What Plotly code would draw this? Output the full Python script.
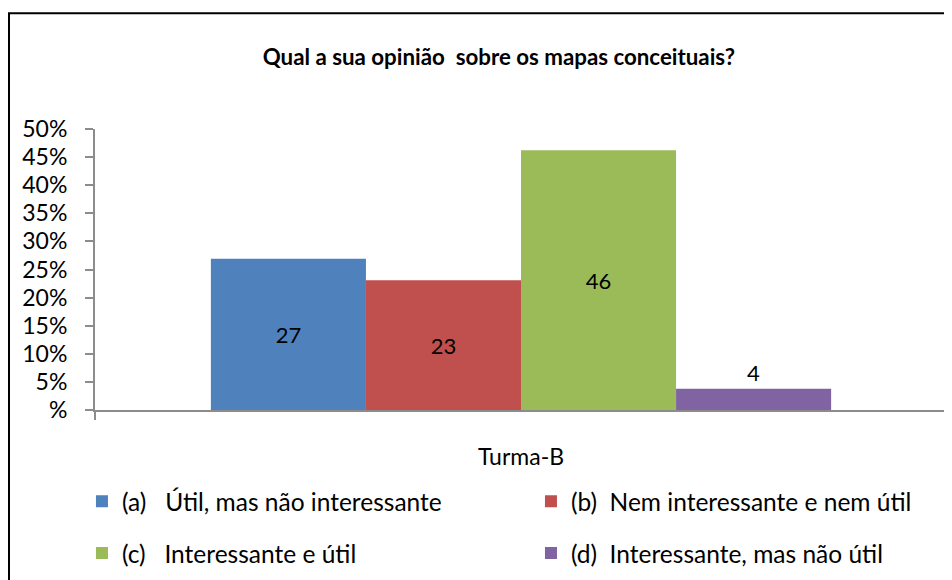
import plotly.graph_objects as go

# survey answers for Turma-B (share of students, 26 respondents)
categories = ["Turma-B"]
options = [
    "(a)\u00a0\u00a0 Útil, mas não interessante",
    "(b)\u00a0\u00a0Nem interessante e nem útil",
    "(c)\u00a0\u00a0 Interessante e útil",
    "(d)\u00a0\u00a0Interessante, mas não útil",
]
shares = [0.269, 0.231, 0.462, 0.038]
labels = ["27", "23", "46", "4"]
colors = ["#4F81BD", "#C0504D", "#9BBB59", "#8064A2"]
ytick_vals = [0, 0.05, 0.10, 0.15, 0.20, 0.25, 0.30, 0.35, 0.40, 0.45, 0.50]
ytick_text = ["%", "5%", "10%", "15%", "20%", "25%", "30%", "35%", "40%", "45%", "50%"]

font = "Lato"
axis_grey = "#8c8c8c"

# one legend box per entry, laid out as a 2x2 grid below the plot
legend_ids = ["legend", "legend2", "legend3", "legend4"]
legend_x = [-0.0153, 0.5117, -0.0153, 0.5117]
legend_y = [-0.325, -0.325, -0.509, -0.509]

fig = go.Figure()
for name, val, lab, col, lg in zip(options, shares, labels, colors, legend_ids):
    fig.add_trace(go.Bar(
        x=categories, y=[val], name=name, text=[lab],
        marker=dict(color=col, line=dict(width=0)),
        textposition="inside" if val > 0.1 else "outside",
        insidetextanchor="middle", textangle=0, constraintext="none",
        textfont=dict(family=font, size=22, color="black"),
        cliponaxis=False, legend=lg,
    ))

# the page body adds an 8px offset, so the figure is 8px smaller than the window
fig.update_layout(
    width=944, height=572,
    margin=dict(l=87, r=5, t=121, b=168),
    paper_bgcolor="white", plot_bgcolor="white",
    barmode="group", bargap=0.272, bargroupgap=0,
    font=dict(family=font, color="black"),
    title=dict(text="<b>Qual a sua opinião  sobre os mapas conceituais?</b>",
               x=0.520, xanchor="center", y=0.914, yanchor="middle",
               font=dict(family=font, size=22.3, color="black")),
    showlegend=True,
)
for lg, lx, ly in zip(legend_ids, legend_x, legend_y):
    fig.update_layout({lg: dict(orientation="h", x=lx, y=ly, yanchor="middle",
                                xanchor="left", bgcolor="rgba(0,0,0,0)",
                                font=dict(family=font, size=24.5),
                                itemclick=False, itemdoubleclick=False)})

fig.update_xaxes(type="category", range=[-0.5, 0.5], showline=True,
                 linecolor=axis_grey, linewidth=2, ticks="outside",
                 tickson="boundaries", ticklen=8, tickcolor=axis_grey,
                 tickwidth=2, ticklabelstandoff=25,
                 tickfont=dict(family=font, size=23, color="black"),
                 showgrid=False, zeroline=False)
fig.update_yaxes(range=[0, 0.5], tickvals=ytick_vals, ticktext=ytick_text,
                 showline=True, linecolor=axis_grey, linewidth=2,
                 ticks="outside", ticklen=8, tickcolor=axis_grey, tickwidth=2,
                 ticklabelstandoff=13,
                 tickfont=dict(family=font, size=23, color="black"),
                 showgrid=False, zeroline=False)

# outer chart border (cropped at right and bottom in the reference)
fig.add_shape(type="rect", xref="paper", yref="paper",
              x0=(9 - 95) / 852, x1=1.2, y0=-1.0, y1=(412 - 12.5) / 283,
              line=dict(color="black", width=2), layer="below")

fig.write_html("out.html")
